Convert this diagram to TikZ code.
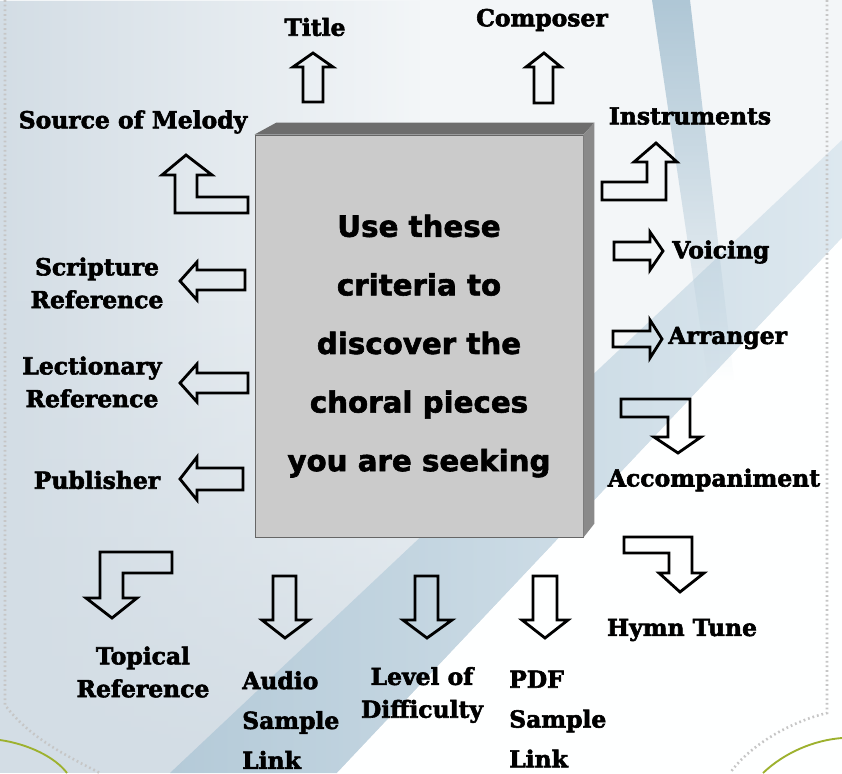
\documentclass[tikz,border=0pt]{standalone}
\usepackage{fontspec}
\usepackage{tikz}
\usetikzlibrary{fadings}
\newfontfamily\lblfont{DejaVu Serif}[BoldFeatures={FakeBold=2.5}]
\newfontfamily\boxfont{DejaVu Sans}[BoldFeatures={FakeBold=2}]
\pgfdeclarelayer{bg}
\pgfsetlayers{bg,main}
\definecolor{paperL}{HTML}{D3DDE5}
\definecolor{paperR}{HTML}{F3F6F8}
\definecolor{bandA}{HTML}{B4CAD8}
\definecolor{bandB}{HTML}{DDE8EF}
\definecolor{standblue}{HTML}{AFC7D6}
\definecolor{rimgreen}{HTML}{9DB12E}
\definecolor{frontgray}{HTML}{CBCBCB}
\definecolor{topgray}{HTML}{6D6D6D}
\definecolor{sidegray}{HTML}{8A8A8A}
\tikzset{
  lbl/.style={font=\lblfont\bfseries\fontsize{20}{28}\selectfont, align=center, inner sep=0pt},
  lblthree/.style={lbl, font=\lblfont\bfseries\fontsize{20}{34}\selectfont, align=left},
  blk/.style={draw=black, line width=2.4pt, line join=miter},
  dots/.style={draw=gray!45, line width=2.2pt, dash pattern=on 1.5pt off 2.5pt},
}

\begin{document}
\begin{tikzpicture}[x=0.03cm, y=-0.03cm]
        \useasboundingbox (0,0) rectangle (842,773);
        \begin{pgfonlayer}{bg}
                \fill[paperR] (0,0) rectangle (842,773);
                \fill[paperL, path fading=east] (0,0) rectangle (420,773);
                \fill[paperL, path fading=north] (0,300) rectangle (420,773);
                \shade[left color=bandA, right color=bandB] (170,773) -- (337,773) -- (842,238) -- (842,140) -- cycle;
                \fill[white!96!paperR] (337,773) -- (842,773) -- (842,238) -- cycle;
                \fill[standblue, path fading=south] (652,0) -- (690,0) -- (734,380) -- (708,380) -- cycle;
                \draw[dots] (5,0) -- (5,705) .. controls (30,738) and (65,755) .. (100,773);
                \draw[dots] (827,0) -- (827,713) .. controls (790,722) and (750,745) .. (730,773);
                \draw[rimgreen, line width=1.6pt] (0,740) .. controls (28,744) and (55,757) .. (67,773);
                \draw[rimgreen, line width=1.6pt] (763,773) .. controls (785,752) and (815,740) .. (842,738);
        \end{pgfonlayer}
        \node (box) [draw=gray!80!black, line width=0.8pt, fill=frontgray, minimum width=9.84cm, minimum height=12.06cm] at (419,336) {};
        \fill[topgray] (box.north west) -- ([shift={(22,-12)}]box.north west) -- ([shift={(11,-12)}]box.north east) -- (box.north east) -- cycle;
        \fill[sidegray] (box.north east) -- ([shift={(11,-12)}]box.north east) -- ([shift={(11,-14)}]box.south east) -- (box.south east) -- cycle;
        \node (msg) [font=\boxfont\bfseries\fontsize{25}{50}\selectfont, align=center] at (419,346) {Use these\\criteria to\\discover the\\choral pieces\\you are seeking};
        \node (title) [lbl] at (315,27) {Title};
        \node (composer) [lbl] at (542,20) {Composer};
        \node (melody) [lbl] at (133,122) {Source of Melody};
        \node (instr) [lbl] at (690,116) {Instruments};
        \node (voicing) [lbl, anchor=west] at (672,252) {Voicing};
        \node (arranger) [lbl, anchor=west] at (668,338) {Arranger};
        \node (scripture) [lbl] at (97,283) {Scripture\\Reference};
        \node (lection) [lbl] at (92,382) {Lectionary\\Reference};
        \node (publisher) [lbl] at (97,480) {Publisher};
        \node (accomp) [lbl] at (714,480) {Accompaniment};
        \node (hymn) [lbl] at (682,630) {Hymn Tune};
        \node (topical) [lbl] at (143,672) {Topical\\Reference};
        \node (audio) [lblthree, anchor=west] at (242,720) {Audio\\Sample\\Link};
        \node (level) [lbl] at (422,695) {Level of\\Difficulty};
        \node (pdf) [lblthree, anchor=west] at (509,719) {PDF\\Sample\\Link};
        \draw[blk] (303,102) -- (303,67) -- (293,67) -- (313,53) -- (333,67) -- (323,67) -- (323,102) -- cycle;
        \draw[blk] (534,103) -- (534,67) -- (526,67) -- (544,53) -- (561,67) -- (553,67) -- (553,103) -- cycle;
        \draw[blk] (248,197) -- (197,197) -- (197,175) -- (212,175) -- (186,155) -- (162,175) -- (175,175) -- (175,213) -- (248,213) -- cycle;
        \draw[blk] (602,182) -- (647,182) -- (647,162) -- (634,162) -- (656,143) -- (677,162) -- (666,162) -- (666,200) -- (602,200) -- cycle;
        \draw[blk] (614,242) -- (650,242) -- (650,232) -- (663,251) -- (650,270) -- (650,260) -- (614,260) -- cycle;
        \draw[blk] (613,331) -- (650,331) -- (650,320) -- (662,339) -- (650,358) -- (650,347) -- (613,347) -- cycle;
        \draw[blk] (245,270) -- (197,270) -- (197,262) -- (180,281) -- (197,300) -- (197,290) -- (245,290) -- cycle;
        \draw[blk] (248,373) -- (197,373) -- (197,364) -- (180,383) -- (197,402) -- (197,393) -- (248,393) -- cycle;
        \draw[blk] (243,468) -- (197,468) -- (197,457) -- (180,479) -- (197,500) -- (197,490) -- (243,490) -- cycle;
        \draw[blk] (621,399) -- (690,399) -- (690,437) -- (701,437) -- (678,453) -- (654,437) -- (668,437) -- (668,417) -- (621,417) -- cycle;
        \draw[blk] (624,537) -- (692,537) -- (692,573) -- (704,573) -- (680,592) -- (659,573) -- (669,573) -- (669,553) -- (624,553) -- cycle;
        \draw[blk] (172,552) -- (100,552) -- (100,598) -- (86,598) -- (112,618) -- (137,598) -- (123,598) -- (123,573) -- (172,573) -- cycle;
        \draw[blk] (273,576) -- (296,576) -- (296,620) -- (309,620) -- (285,638) -- (262,620) -- (273,620) -- cycle;
        \draw[blk] (415,576) -- (438,576) -- (438,620) -- (452,620) -- (427,638) -- (403,620) -- (415,620) -- cycle;
        \draw[blk] (533,576) -- (557,576) -- (557,620) -- (568,620) -- (545,638) -- (522,620) -- (533,620) -- cycle;
\end{tikzpicture}
\end{document}
